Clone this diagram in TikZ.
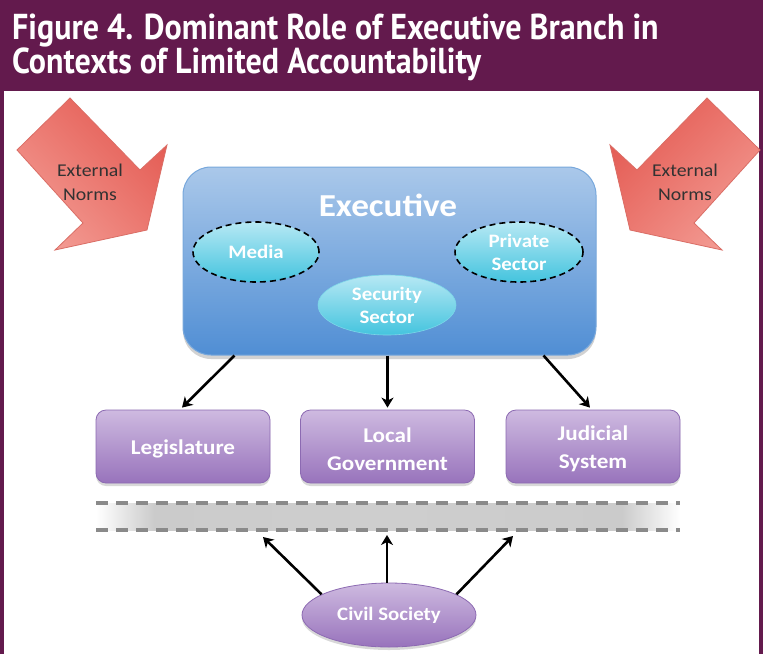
\documentclass[tikz,border=0pt]{standalone}
\usepackage{fontspec}
\setmainfont{Carlito}
\newfontfamily\calf[FakeStretch=1.1]{Carlito}
\newfontfamily\titlef[FakeStretch=0.89]{PT Sans}
\usetikzlibrary{arrows.meta,shadows,shapes.geometric,shadings}
\definecolor{hdr}{RGB}{99,26,77}
\definecolor{redlight}{RGB}{245,168,160}
\definecolor{redmid}{RGB}{236,120,112}
\definecolor{reddark}{RGB}{224,80,72}
\definecolor{redline}{RGB}{218,110,102}
\definecolor{exectop}{RGB}{170,200,234}
\definecolor{execbot}{RGB}{80,142,212}
\definecolor{execline}{RGB}{120,168,220}
\definecolor{cyantop}{RGB}{182,232,244}
\definecolor{cyanbot}{RGB}{68,196,222}
\definecolor{purtop}{RGB}{206,186,224}
\definecolor{purbot}{RGB}{152,115,188}
\definecolor{purline}{RGB}{140,106,178}
\definecolor{dashgray}{RGB}{138,138,138}
\definecolor{bandgray}{RGB}{203,203,203}
\definecolor{bandmid}{RGB}{206,206,206}
\definecolor{normtext}{RGB}{50,50,50}
\pgfdeclarehorizontalshading{bandshade}{100bp}{color(0bp)=(white); color(25bp)=(white);
  color(30bp)=(bandgray); color(50bp)=(bandmid); color(70bp)=(bandgray); color(75bp)=(white); color(100bp)=(white)}
\tikzset{
  execbox/.style={draw=execline, line width=1pt, rounded corners=28pt, top color=exectop, bottom color=execbot,
    drop shadow={opacity=0.35, shadow xshift=0pt, shadow yshift=-4pt}},
  cyanell/.style={ellipse, top color=cyantop, bottom color=cyanbot, inner sep=0pt,
    text=white, font=\calf\bfseries\fontsize{19}{23}\selectfont, align=center},
  dashedring/.style={draw=black, line width=1.6pt, dash pattern=on 6pt off 4pt},
  pbox/.style={draw=purline, line width=0.8pt, rounded corners=10pt, top color=purtop, bottom color=purbot,
    minimum width=174pt, minimum height=73pt, text=white, align=center,
    font=\calf\bfseries\fontsize{21}{28}\selectfont,
    drop shadow={opacity=0.3, shadow xshift=0pt, shadow yshift=-3pt}},
  ptext/.style={text=white, align=center, font=\calf\bfseries\fontsize{21}{28}\selectfont},
  blockarrow/.style={draw=redline, line width=0.8pt},
  normtxt/.style={text=normtext, align=center, font=\calf\fontsize{18}{24}\selectfont},
  arr/.style={draw=black, line width=2.6pt, -{Stealth[length=10pt,width=12pt,inset=3pt]}},
  dashln/.style={draw=dashgray, line width=4pt, dash pattern=on 12pt off 8pt},
  titletxt/.style={text=white, anchor=base west, inner sep=0pt, font=\titlef\bfseries\fontsize{36}{36}\selectfont}
}
\begin{document}
\begin{tikzpicture}[x=1pt,y=-1pt]
\useasboundingbox (0,0) rectangle (763,654);
\fill[white] (0,0) rectangle (763,654);
% header and frame
\fill[hdr] (0,0) rectangle (763,91);
\fill[hdr] (0,0) rectangle (4,654);
\fill[hdr] (759,0) rectangle (763,654);
\node[titletxt] (title1) at (12,39) {Figure 4. Dominant Role of Executive Branch in};
\node[titletxt] (title2) at (12,73) {Contexts of Limited Accountability};

% external norms arrows
\shade[blockarrow, upper right=reddark, lower left=redlight, upper left=redmid, lower right=redmid]
  (70,98) -- (140,170) -- (167,145) -- (147,230) -- (55,250) -- (83,223) -- (17,150) -- cycle;
\shade[blockarrow, upper left=reddark, lower right=redlight, upper right=redmid, lower left=redmid]
  (707,98) -- (637,170) -- (610,145) -- (630,230) -- (722,250) -- (694,223) -- (760,150) -- cycle;
\node[normtxt] (normL) at (90,182) {External\\Norms};
\node[normtxt] (normR) at (685,182) {External\\Norms};

% executive
\node[execbox, minimum width=413pt, minimum height=188pt] (exec) at (389.5,261) {};
\node[text=white, font=\calf\bfseries\fontsize{32}{36}\selectfont] (exectitle) at (388,205) {Executive};
\node[cyanell, dashedring, minimum width=126pt, minimum height=60pt] (media) at (256,252) {Media};
\node[cyanell, dashedring, minimum width=128pt, minimum height=60pt] (priv) at (519,252) {Private\\Sector};
\node[cyanell, draw=cyanbot!70!white, line width=0.6pt, minimum width=138pt, minimum height=60pt] (sec) at (387,305) {Security\\Sector};

% branches
\node[pbox] (leg) at (183,446.5) {};
\node[pbox] (loc) at (387.5,446.5) {};
\node[pbox] (jud) at (593,446.5) {};
\node[ptext] (legt) at (183,449) {Legislature};
\node[ptext] (loct) at (387.5,449) {Local\\Government};
\node[ptext] (judt) at (593,449) {Judicial\\System};

\draw[arr] ([xshift=52pt]exec.south west) -- ([xshift=-1pt,yshift=2pt]leg.north);
\draw[arr] (exec.south -| loc.north) -- ([yshift=2pt]loc.north);
\draw[arr] ([xshift=-53pt]exec.south east) -- ([xshift=-3pt,yshift=2pt]jud.north);

% accountability band
\coordinate (bandL1) at (96,503);
\coordinate (bandR1) at (680,503);
\coordinate (bandL2) at (96,530);
\coordinate (bandR2) at (680,530);
\shade[shading=bandshade] (bandL1) rectangle (bandR2);
\draw[dashln] (bandL1) -- (bandR1);
\draw[dashln] (bandL2) -- (bandR2);

% civil society
\node[ellipse, top color=purtop, bottom color=purbot, draw=purline, line width=0.8pt,
  minimum width=174pt, minimum height=64pt, text=white, font=\calf\bfseries\fontsize{19}{23}\selectfont,
  drop shadow={opacity=0.3, shadow xshift=0pt, shadow yshift=-3pt}] (civ) at (389,615) {Civil Society};
\coordinate (c1) at (263,537);
\coordinate (c2) at (387,535);
\coordinate (c3) at (513,536);
\draw[arr] (civ.163) -- (c1);
\draw[arr] (civ.north -| c2) -- (c2);
\draw[arr] (civ.17) -- (c3);
\end{tikzpicture}
\end{document}
